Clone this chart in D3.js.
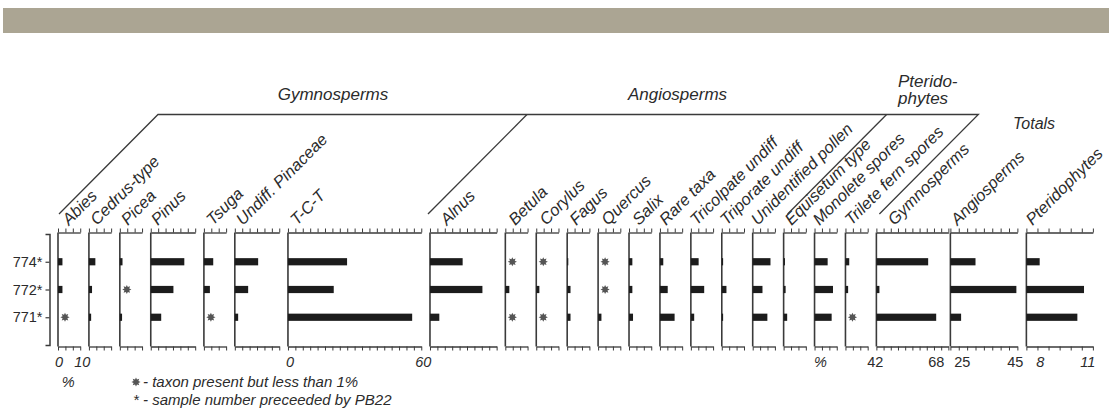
<!DOCTYPE html>
<html>
<head>
<meta charset="utf-8">
<script src="https://cdn.jsdelivr.net/npm/d3@7"></script>
<style>
  body { margin: 0; background: #fff; }
  svg { display: block; font-family: "Liberation Sans", Arial, sans-serif; }
</style>
</head>
<body>
<svg id="chart" width="1109" height="411"></svg>
<script>
// ---- data (percent of pollen sum) ----
const samples = ["774*", "772*", "771*"];
const taxa = ["Abies", "Cedrus-type", "Picea", "Pinus", "Tsuga", "Undiff. Pinaceae", "T-C-T",
  "Alnus", "Betula", "Corylus", "Fagus", "Quercus", "Salix", "Rare taxa", "Tricolpate undiff",
  "Triporate undiff", "Unidentified pollen", "Equisetum type", "Monolete spores", "Trilete fern spores"];
const taxaMax = [10, 10, 10, 20, 10, 20, 60, 30, 10, 10, 10, 10, 10, 10, 10, 10, 10, 10, 10, 10];
const TR = "+"; // taxon present but less than 1%
const s774 = [2.0, 2.9, 1.2, 15.1, 4.2, 10.5, 26.6, 14.7, TR, TR, 0.5, TR, 1.5, 1.5, 3.5, 0.6, 8.0, 0.6, 5.9, 1.7];
const s772 = [2.0, 1.4, TR, 10.2, 2.7, 6.0, 20.6, 23.6, 1.8, 1.4, 1.5, TR, 1.5, 3.5, 6.0, 2.1, 4.4, 0.9, 8.3, 1.2];
const s771 = [TR, 1.0, 1.0, 4.7, TR, 1.5, 55.9, 4.2, TR, TR, 1.5, 1.5, 1.8, 6.6, 1.5, 0.6, 6.6, 1.6, 7.7, TR];

const totals = ["Gymnosperms", "Angiosperms", "Pteridophytes"];
const totalMin = [42, 25, 8];
const totalMax = [68, 45, 11];
const t774 = [60.7, 32.5, 8.6];
const t772 = [43.1, 44.7, 10.6];
const t771 = [63.6, 28.2, 10.3];

const groups = ["Gymnosperms", "Angiosperms", "Pterido-|phytes", "Totals"];

// ---- layout ----
const svg = d3.select("#chart");
const ink = "#2b2b2b", barCol = "#1c1c1c", axCol = "#3a3a3a";
const yTop = 232.5, yBot = 346.5;
const k = 2.222, gap = 8.7;
const labelDx = [11, 8, 8, 7, 9, 8, 9, 17, 10, 10, 9, 10, 10, 6, 6, 5, 5, 8, 5, 6, 18, 7, 6];

const rowY = d3.scaleLinear().domain([0, 4]).range([234, 345]);

svg.append("rect").attr("x", 3).attr("y", 8).attr("width", 1106).attr("height", 25).attr("fill", "#aba593");

let cx = 58;
const panels = taxa.map((name, i) => {
  const w = taxaMax[i] * k;
  const p = {
    name, x0: cx,
    x: d3.scaleLinear().domain([0, taxaMax[i]]).range([cx, cx + w]),
    vals: [s774[i], s772[i], s771[i]],
    ticks: d3.range(0, taxaMax[i] + 0.01, 10 / 3)
  };
  cx += w + gap;
  return p;
});
const totW = [72, 67, 66.5], totGap = [2, 9, 0], totStep = [2.6, 2.5, 0.5];
totals.forEach((name, i) => {
  panels.push({
    name, x0: cx,
    x: d3.scaleLinear().domain([totalMin[i], totalMax[i]]).range([cx, cx + totW[i]]),
    vals: [t774[i], t772[i], t771[i]],
    ticks: d3.range(totalMin[i], totalMax[i] + 0.01, totStep[i])
  });
  cx += totW[i] + totGap[i];
});

// trace marker: 8-point star
function star(r1, r2) {
  const pts = d3.range(16).map(j => {
    const a = j * Math.PI / 8 - Math.PI / 2, r = j % 2 ? r2 : r1;
    return [Math.cos(a) * r, Math.sin(a) * r];
  });
  return "M" + pts.join("L") + "Z";
}

panels.forEach((p, i) => {
  const g = svg.append("g");
  const top = g.append("g").attr("transform", `translate(0,${yTop})`)
    .call(d3.axisTop(p.x).tickValues(p.ticks).tickSize(4).tickSizeOuter(0).tickFormat(""));
  const bot = g.append("g").attr("transform", `translate(0,${yBot})`)
    .call(d3.axisBottom(p.x).tickValues(p.ticks).tickSize(4).tickSizeOuter(0).tickFormat(""));
  [top, bot].forEach(a => {
    a.select(".domain").attr("stroke", axCol).attr("stroke-width", 1.3);
    a.selectAll(".tick line").attr("stroke", axCol).attr("stroke-width", 1);
  });
  g.append("line").attr("x1", p.x0).attr("x2", p.x0).attr("y1", yTop).attr("y2", yBot)
    .attr("stroke", axCol).attr("stroke-width", 1.6);

  p.vals.forEach((v, r) => {
    const y = rowY(r + 1);
    if (v === TR) {
      g.append("path").attr("d", star(4.6, 2.6))
        .attr("transform", `translate(${p.x0 + 7},${y})`).attr("fill", "#555");
    } else {
      g.append("rect").attr("x", p.x0).attr("y", y - 3.6)
        .attr("width", p.x(v) - p.x0).attr("height", 7.2).attr("fill", barCol);
    }
  });

  g.append("text").attr("transform", `translate(${p.x0 + labelDx[i]},226) rotate(-45)`)
    .attr("font-size", 16.5).attr("font-style", "italic").attr("fill", ink).text(p.name);
});

// sample axis (bracket)
const yAx = svg.append("g").attr("transform", "translate(49.5,0)")
  .call(d3.axisLeft(rowY).tickValues([1, 2, 3]).tickSize(4).tickSizeOuter(4).tickPadding(3)
    .tickFormat(d => samples[d - 1]));
yAx.select(".domain").attr("stroke", axCol).attr("stroke-width", 1.5);
yAx.selectAll(".tick line").attr("stroke", axCol).attr("stroke-width", 1.2);
yAx.selectAll(".tick text").attr("font-size", 14.5).attr("fill", ink)
  .attr("font-family", "'Liberation Sans', Arial, sans-serif");

// scale labels under panels
const num = (x, y, t, it) => svg.append("text").attr("x", x).attr("y", y).attr("text-anchor", "middle")
  .attr("font-size", 14.5).attr("font-style", it ? "italic" : "normal").attr("fill", ink).text(t);
const P = name => panels.find(p => p.name === name);
const ab = P("Abies"), tct = P("T-C-T"), mono = P("Monolete spores");
num(ab.x(0) + 1, 366.5, "0", true);
num(ab.x(10) + 2, 366.5, "10", true);
num(ab.x(5) - 1, 386.5, "%", true);
num(tct.x(0) + 2, 366.5, "0", true);
num(tct.x(60) + 2, 366.5, "60", true);
num(mono.x0 + 6, 366.5, "%", true);
const tp = panels.slice(taxa.length);
num(tp[0].x(42) - 1, 366.5, "42", false);
num(tp[0].x(68) - 12, 366.5, "68", false);
num(tp[1].x(25) + 12, 366.5, "25", false);
num(tp[1].x(45) - 2, 366.5, "45", false);
num(tp[2].x(8) + 14, 366.5, "8", true);
num(tp[2].x(11) - 5, 366.5, "11", true);

// group brackets
const d0 = panels[0].x0 + 1, d1 = panels[7].x0 - 2, d2 = panels[17].x0 + 4, d3x = tp[0].x0 + 3;
const rise = 99, yLow = 214, yHigh = 114.5;
const line = d3.line();
const br = [
  [[d0, yLow], [d0 + rise, yHigh], [d3x + rise, yHigh], [d3x, yLow]],
  [[d1, yLow], [d1 + rise, yHigh]],
  [[d2, yLow], [d2 + rise, yHigh]]
];
br.forEach(pts => svg.append("path").attr("d", line(pts)).attr("fill", "none")
  .attr("stroke", axCol).attr("stroke-width", 1.3));

const gl = (x, y, t, anchor, fs) => svg.append("text").attr("x", x).attr("y", y)
  .attr("text-anchor", anchor).attr("font-size", fs).attr("font-style", "italic").attr("fill", ink).text(t);
gl(333, 100, groups[0], "middle", 17);
gl(677.5, 100, groups[1], "middle", 17);
groups[2].split("|").forEach((t, j) => gl(898, 87 + j * 17, t, "start", 17));
gl(1013, 129, groups[3], "start", 16);

// legend
svg.append("path").attr("d", star(4.6, 2.6)).attr("transform", "translate(136,382)").attr("fill", "#555");
svg.append("text").attr("x", 143).attr("y", 386.5).attr("font-size", 15).attr("font-style", "italic")
  .attr("fill", ink).text("- taxon present but less than 1%");
svg.append("text").attr("x", 133).attr("y", 405).attr("font-size", 15).attr("font-style", "italic")
  .attr("fill", ink).text("* - sample number preceeded by PB22");
</script>
</body>
</html>
